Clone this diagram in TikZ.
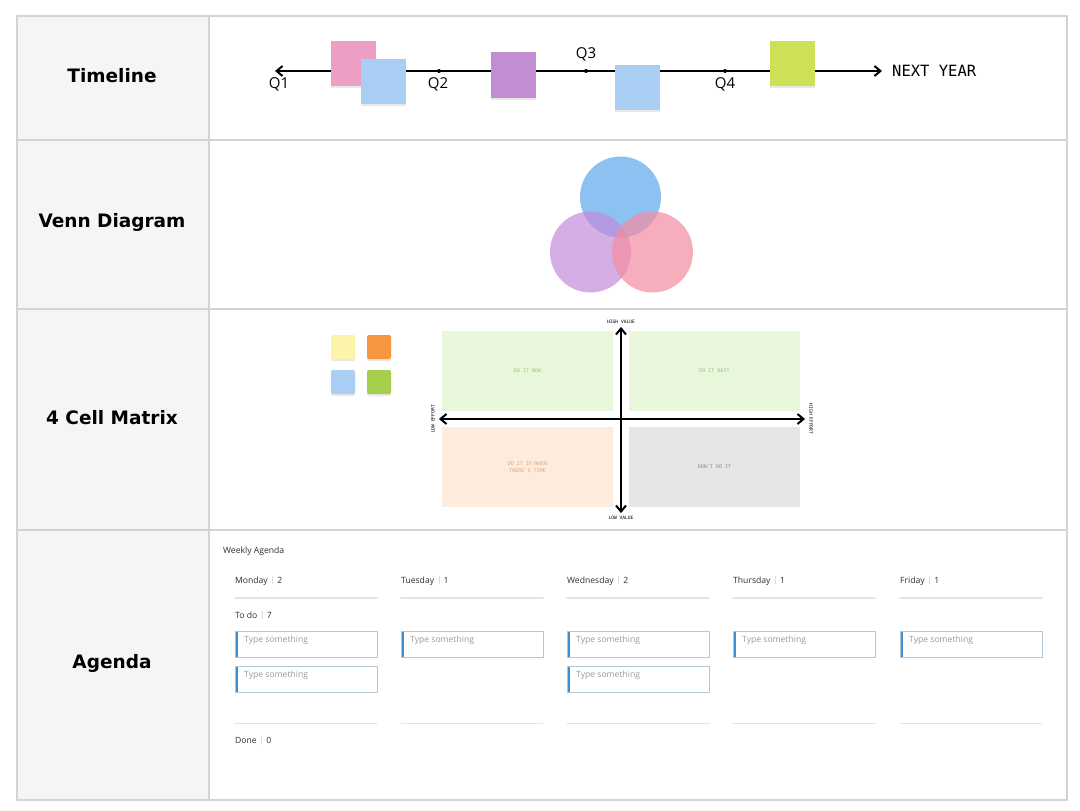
\documentclass[tikz,border=0pt]{standalone}
\usepackage{fontspec}
\setmainfont{Open Sans}
\newfontfamily\headfont{DejaVu Sans}
\newfontfamily\monofont{DejaVu Sans Mono}
\usetikzlibrary{arrows.meta,shadows,positioning}
\definecolor{gridgray}{HTML}{D3D3D3}
\definecolor{cellgray}{HTML}{F5F5F5}
\definecolor{notepink}{HTML}{EC9EC4}
\definecolor{noteblue}{HTML}{A9CDF3}
\definecolor{notepurple}{HTML}{C28ED1}
\definecolor{notegreen}{HTML}{CDE057}
\definecolor{noteyellow}{HTML}{FCF4A8}
\definecolor{noteorange}{HTML}{F7963F}
\definecolor{notelime}{HTML}{A7CD4C}
\definecolor{vennblue}{RGB}{93,168,236}
\definecolor{vennpurple}{RGB}{196,140,220}
\definecolor{vennpink}{RGB}{245,140,160}
\definecolor{quadgreen}{HTML}{E8F6DC}
\definecolor{quadpeach}{HTML}{FDECDD}
\definecolor{quadgray}{HTML}{E6E6E6}
\definecolor{txtgreen}{HTML}{9FC57F}
\definecolor{txtorange}{HTML}{E2A674}
\definecolor{txtgray}{HTML}{8A8A8A}
\definecolor{agendadark}{HTML}{2E2E2E}
\definecolor{sepgray}{HTML}{DDDDDD}
\definecolor{rulegray}{HTML}{E3E3E3}
\definecolor{cardedge}{HTML}{B3C8D6}
\definecolor{cardblue}{HTML}{3D8FD1}
\definecolor{placeholder}{HTML}{9A9A9A}
\newcommand\agsep{\hspace{4.5pt}\textcolor{sepgray}{\rule[-1pt]{0.6pt}{8pt}}\hspace{4.5pt}}
\begin{document}
\begin{tikzpicture}[x=1pt,y=-1pt,line join=round,line cap=round,>={Straight Barb[length=6pt,width=10pt]},
 rowlabel/.style={font=\headfont\bfseries\fontsize{18.5}{22}\selectfont},
 sticky/.style={fill=#1,minimum width=45pt,minimum height=45pt,inner sep=0pt,
   drop shadow={shadow xshift=0pt,shadow yshift=-2pt,opacity=0.18}},
 ministicky/.style={sticky=#1,minimum width=24pt,minimum height=24pt,rounded corners=2pt},
 venn/.style={circle,fill=#1,fill opacity=0.7,minimum size=81pt,inner sep=0pt},
 quad/.style={fill=quad#1,minimum width=171pt,minimum height=80pt,inner sep=0pt,
   font=\monofont\fontsize{5}{6.5}\selectfont,align=center},
 axislabel/.style={font=\monofont\fontsize{4.6}{5}\selectfont,inner sep=0pt},
 qlabel/.style={font=\fontsize{15}{17}\selectfont,inner sep=0pt},
 dot/.style={circle,fill,inner sep=0pt,minimum size=4pt},
 agendatext/.style={font=\fontsize{8.6}{10}\selectfont,text=agendadark,anchor=west,inner sep=0pt},
 card/.style={draw=cardedge,line width=0.8pt,minimum width=142pt,minimum height=26pt,anchor=north west,
   inner sep=0pt,path picture={\fill[cardblue] (path picture bounding box.north west)
   rectangle ([xshift=3pt]path picture bounding box.south west);}},
 cardtext/.style={font=\fontsize{8.6}{10}\selectfont,text=placeholder,anchor=north west,inner sep=0pt},
 rule/.style={draw=rulegray,line width=#1},rule/.default=1.6pt]
 \fill[white] (0,0) rectangle (1080,811);
 \useasboundingbox (0,0) rectangle (1080,811);
 % table
 \fill[cellgray] (17,16) rectangle (209,800);
 \draw[gridgray,line width=1.2pt] (17,16) rectangle (1067,800) (209,16) -- (209,800);
 \foreach \y in {140,309,530} \draw[gridgray,line width=1.2pt] (17,\y) -- (1067,\y);
 \node[rowlabel] (lbl-time) at (112,76) {Timeline};
 \node[rowlabel] (lbl-venn) at (112,222) {Venn Diagram};
 \node[rowlabel] (lbl-matrix) at (112,418) {4 Cell Matrix};
 \node[rowlabel] (lbl-agenda) at (112,663) {Agenda};
 % timeline
 \coordinate (tl-start) at (275,71); \coordinate (tl-end) at (882,71);
 \draw[<->,line width=2pt] (tl-start) -- (tl-end);
 \node[dot] (q2) at (439,71) {}; \node[dot] (q3) at (586,71) {}; \node[dot] (q4) at (725,71) {};
 \node[qlabel] (q1-l) at (279,84) {Q1};
 \node[qlabel] (q2-l) at (438,84) {Q2};
 \node[qlabel] (q3-l) at (586,54) {Q3};
 \node[qlabel] (q4-l) at (725,84) {Q4};
 \node[font=\monofont\fontsize{15.5}{18}\selectfont,anchor=west,inner sep=0pt] (next-year) at (892,71) {NEXT YEAR};
 \node[sticky=notepink] (n1) at (353.5,63.5) {};
 \node[sticky=noteblue] (n2) at (383.5,81.5) {};
 \node[sticky=notepurple,minimum height=46pt] (n3) at (513.5,75) {};
 \node[sticky=noteblue] (n4) at (637.5,87) {};
 \node[sticky=notegreen] (n5) at (792.5,63.5) {};
 % venn
 \node[venn=vennblue] (c-top) at (620.5,197) {};
 \node[venn=vennpurple] (c-left) at (590.5,252) {};
 \node[venn=vennpink] (c-right) at (652.5,252) {};
 % matrix
 \node[ministicky=noteyellow] (m1) at (343,347) {};
 \node[ministicky=noteorange] (m2) at (379,347) {};
 \node[ministicky=noteblue] (m3) at (343,382) {};
 \node[ministicky=notelime] (m4) at (379,382) {};
 \node[quad=green,text=txtgreen] (q-tl) at (527.5,371) {DO IT NOW};
 \node[quad=green,text=txtgreen] (q-tr) at (714.5,371) {DO IT NEXT};
 \node[quad=peach,text=txtorange] (q-bl) at (527.5,467) {DO IT IF/WHEN\\THERE'S TIME};
 \node[quad=gray,text=txtgray] (q-br) at (714.5,467) {DON'T DO IT};
 \node[axislabel] (hi-val) at (621,322) {HIGH VALUE};
 \node[axislabel] (lo-val) at (621,518) {LOW VALUE};
 \node[axislabel,rotate=90] (lo-eff) at (433,419) {LOW EFFORT};
 \node[axislabel,rotate=-90] (hi-eff) at (811,419) {HIGH EFFORT};
 \draw[<->,line width=2pt] ([yshift=-3pt]hi-val.south) -- ([yshift=3pt]lo-val.north);
 \draw[<->,line width=2pt] ([xshift=4pt]lo-eff.south) -- ([xshift=-4pt]hi-eff.south);
 % agenda
 \node[agendatext] (ag-title) at (223,551) {Weekly Agenda};
 \foreach \d/\n/\x [count=\i] in {Monday/2/235,Tuesday/1/401,Wednesday/2/567,Thursday/1/733,Friday/1/900} {
   \node[agendatext] (day\i) at (\x,581) {\d\agsep\n};
   \draw[rule] (\x,598) -- (\x+142,598);
   \draw[rule=1pt] (\x,723) -- (\x+142,723);
   \node[card] (card\i-1) at (\x,631) {};
   \node[cardtext] at ([shift={(9,5)}]card\i-1.north west) {Type something};
 }
 \foreach \i/\x in {1/235,3/567} {
   \node[card] (card\i-2) at (\x,666) {};
   \node[cardtext] at ([shift={(9,5)}]card\i-2.north west) {Type something};
 }
 \node[agendatext] (todo) at (235,615) {To do\agsep7};
 \node[agendatext] (done) at (235,740) {Done\agsep0};
\end{tikzpicture}
\end{document}
